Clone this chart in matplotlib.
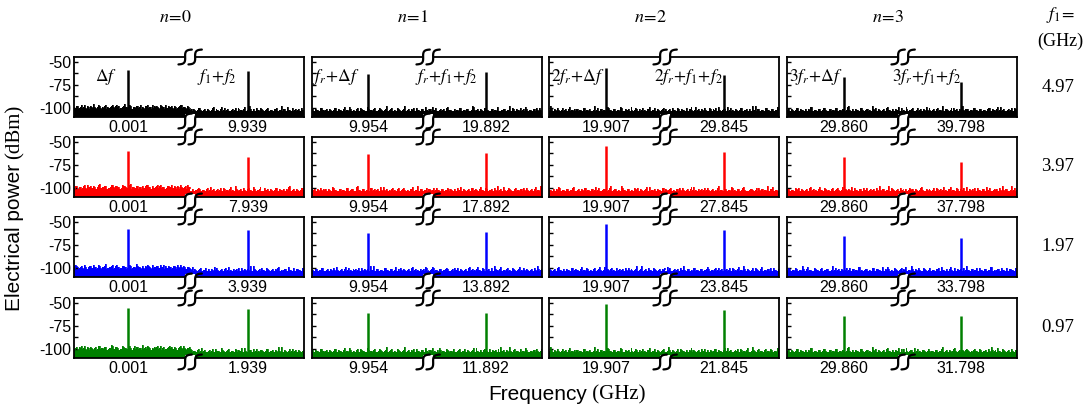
import numpy as np
import matplotlib.pyplot as plt

plt.rcParams['font.family'] = ['Liberation Sans', 'DejaVu Sans']
plt.rcParams['axes.unicode_minus'] = False
plt.rcParams['mathtext.fontset'] = 'stix'

# column / row labels
n_titles = [r'$n\!=\!0$', r'$n\!=\!1$', r'$n\!=\!2$', r'$n\!=\!3$']
f1_values = ['4.97', '3.97', '1.97', '0.97']
row_colors = ['black', '#ff0000', '#0000ff', '#008000']

# x tick labels (GHz)
left_ticks = ['0.001', '9.954', '19.907', '29.860']
right_ticks = [['9.939', '19.892', '29.845', '39.798'],
               ['7.939', '17.892', '27.845', '37.798'],
               ['3.939', '13.892', '23.845', '33.798'],
               ['1.939', '11.892', '21.845', '31.798']]

# peak positions inside each panel (fraction of panel width)
peak1_pos = [0.236, 0.243, 0.248, 0.247]
peak2_pos = [0.755, 0.757, 0.761, 0.758]

# peak powers (dBm), rows = f1, cols = n
peak1 = [[-59, -63, -57, -67],
         [-60, -63, -55, -67],
         [-58, -62, -53, -66],
         [-56, -61, -52, -65]]
peak2 = [[-60, -61, -64, -72],
         [-67, -62, -61, -72],
         [-59, -61, -59, -68],
         [-57, -61, -58, -65]]

# peak annotations in the top row
peak_names = [[r'$\Delta f$', r'$f_1\!+\!f_2$'],
              [r'$f_r\!+\!\Delta f$', r'$f_r\!+\!f_1\!+\!f_2$'],
              [r'$2f_r\!+\!\Delta f$', r'$2f_r\!+\!f_1\!+\!f_2$'],
              [r'$3f_r\!+\!\Delta f$', r'$3f_r\!+\!f_1\!+\!f_2$']]

# noise floor (dBm)
noise_high = [-99, -101, -98, -100, -97, -99, -100, -98, -101, -99, -96, -100, -99, -98, -101,
              -100, -97, -99, -100, -98, -99, -101, -97, -98, -100, -99, -96, -99, -100, -98,
              -101, -99, -98, -100, -97, -99, -101, -98, -100, -99, -97, -98, -100, -99, -101,
              -98, -99, -97, -100, -99, -98, -101, -99, -100, -98, -97, -99, -100, -98, -101]
noise_high2 = [-100, -98, -101, -99, -100, -97, -101, -99, -98, -100, -99, -101, -97, -100, -99,
               -98, -101, -100, -99, -97, -100, -98, -99, -101, -100, -98, -99, -100, -97, -101,
               -99, -100, -98, -99, -101, -100, -98, -97, -99, -101, -100, -99, -98, -100, -97,
               -99, -101, -100, -98, -99, -100, -98, -101, -99, -97, -100, -99, -101, -99, -100]
noise_low = [
    [-103, -101, -104, -102, -100, -103, -102, -104, -101, -103, -99, -102, -104, -103, -101,
     -102, -104, -100, -103, -102, -101, -104, -103, -98, -102, -103, -101, -104, -102, -103,
     -100, -102, -104, -101, -103, -102, -99, -103, -104, -102, -101, -103, -102, -104, -100,
     -103, -101, -102, -104, -103, -101, -99, -103, -102, -104, -101, -103, -102, -100, -103],
    [-102, -104, -101, -103, -102, -100, -104, -102, -103, -101, -104, -102, -99, -103, -102,
     -104, -101, -103, -100, -102, -104, -103, -101, -102, -104, -100, -103, -102, -101, -104,
     -102, -98, -103, -101, -104, -102, -103, -100, -102, -104, -101, -103, -102, -104, -101,
     -100, -103, -102, -104, -101, -103, -99, -102, -104, -103, -101, -102, -104, -100, -102],
    [-101, -103, -102, -104, -100, -102, -103, -101, -104, -102, -103, -100, -104, -101, -102,
     -103, -99, -102, -104, -101, -103, -102, -104, -100, -103, -101, -102, -104, -99, -103,
     -102, -101, -104, -103, -100, -102, -104, -101, -103, -102, -100, -104, -102, -103, -101,
     -104, -102, -98, -103, -101, -104, -102, -103, -100, -102, -104, -101, -103, -102, -101]]

FIG_W, FIG_H = 1084, 412
col_px = [74, 312, 549, 787]
row_px = [57, 137, 217, 298]
AX_W, AX_H = 230, 60
BREAK = 0.505


def interleave(a, b):
    return np.ravel(np.column_stack([a, b]))


def break_mark(ax, y, shift):
    # two wavy strokes cutting the spine
    t = np.linspace(-1, 1, 40)
    ang = np.deg2rad(48)
    u = 10 * t
    v = 3.0 * np.sin(np.pi * t)
    dx = u * np.cos(ang) - v * np.sin(ang)
    dy = u * np.sin(ang) + v * np.cos(ang) + shift
    gap = np.array([[-5, -3], [5, -3], [5, 3], [-5, 3]], dtype=float)
    ax.fill(BREAK + gap[:, 0] / AX_W, y + gap[:, 1] / AX_H, color='white',
            transform=ax.transAxes, clip_on=False, zorder=5, lw=0)
    for off in (-5, 5):
        ax.plot(BREAK + (dx + off) / AX_W, y + dy / AX_H, color='black', lw=1.6,
                transform=ax.transAxes, clip_on=False, zorder=6, solid_capstyle='round')


fig = plt.figure(figsize=(FIG_W / 100, FIG_H / 100), dpi=100)

for r in range(4):
    for c in range(4):
        ax = fig.add_axes([col_px[c] / FIG_W, 1 - (row_px[r] + AX_H) / FIG_H,
                           AX_W / FIG_W, AX_H / FIG_H])
        color = row_colors[r]
        if c == 0:
            y_left = interleave(np.roll(noise_high, 3 * r), noise_high2)
        else:
            y_left = interleave(np.roll(noise_low[(r + c) % 3], 7 * c),
                                noise_low[(r + c + 1) % 3])
        y_right = interleave(np.roll(noise_low[(r + 2 * c + 1) % 3], 5 * r),
                             np.roll(noise_low[(r + 2 * c + 2) % 3], 11 * c))
        x_left = np.linspace(0, BREAK, len(y_left))
        x_right = np.linspace(BREAK, 1, len(y_right))
        for xs, ys in ((x_left, y_left), (x_right, y_right)):
            ax.fill_between(xs, -110, ys, step='mid', color=color, lw=0)
            ax.step(xs, ys, where='mid', color=color, lw=0.6)
        ax.vlines([peak1_pos[c], peak2_pos[c]], -110, [peak1[r][c], peak2[r][c]],
                  color=color, lw=1.8)

        ax.set_xlim(0, 1)
        ax.set_ylim(-110, -45)
        ax.set_yticks([-50, -75, -100])
        ax.set_yticks([-62.5, -87.5], minor=True)
        ax.tick_params(axis='y', which='both', direction='in', length=3, width=1,
                       labelsize=11.5, pad=2, labelleft=(c == 0))
        ax.set_xticks([peak1_pos[c], peak2_pos[c]])
        ax.set_xticklabels([left_ticks[c], right_ticks[r][c]])
        ax.tick_params(axis='x', length=0, pad=2, labelsize=11.5)
        for sp in ax.spines.values():
            sp.set_linewidth(1.3)

        break_mark(ax, 1.0, 0)
        break_mark(ax, 0.0, -4)

        if r == 0:
            offs = [8, 6, 1, 0.5]
            for pos, name in zip([peak1_pos[c], peak2_pos[c]], peak_names[c]):
                ax.annotate(name, xy=(pos, 0.66), xycoords=('data', 'axes fraction'),
                            xytext=(-offs[c], 0), textcoords='offset points',
                            ha='right', va='center', fontsize=12.5)

# column titles and f1 values
for c in range(4):
    xc = (col_px[c] + AX_W / 2 - 14) / FIG_W
    fig.text(xc, 1 - 17 / FIG_H, n_titles[c], ha='center', va='center', fontsize=13)
fig.text(1060 / FIG_W, 1 - 15 / FIG_H, r'$f_1\!=$', ha='center', va='center', fontsize=13)
fig.text(1060 / FIG_W, 1 - 41 / FIG_H, '(GHz)', ha='center', va='center', fontsize=13,
         family='Liberation Serif')
for r in range(4):
    fig.text(1058 / FIG_W, 1 - (row_px[r] + AX_H / 2) / FIG_H, f1_values[r],
             ha='center', va='center', fontsize=13.5, family='Liberation Serif')

# axis titles: sans word plus serif unit
ax0 = fig.axes[0]
t1 = fig.text(488 / FIG_W, 1 - 395 / FIG_H, 'Frequency', ha='left', va='center', fontsize=15)
ax0.annotate(' (GHz)', xy=(1, 0), xycoords=t1, ha='left', va='bottom', fontsize=15,
             family='Liberation Serif', annotation_clip=False)
t2 = fig.text(15 / FIG_W, 1 - 237 / FIG_H, 'Electrical power', rotation=90,
              ha='center', va='center', fontsize=15)
ax0.annotate('(dBm)', xy=(0.5, 1), xycoords=t2, xytext=(0, 3), textcoords='offset points',
             ha='center', va='bottom', rotation=90, fontsize=15,
             family='Liberation Serif', annotation_clip=False)

fig.savefig('out.png', dpi=100)
